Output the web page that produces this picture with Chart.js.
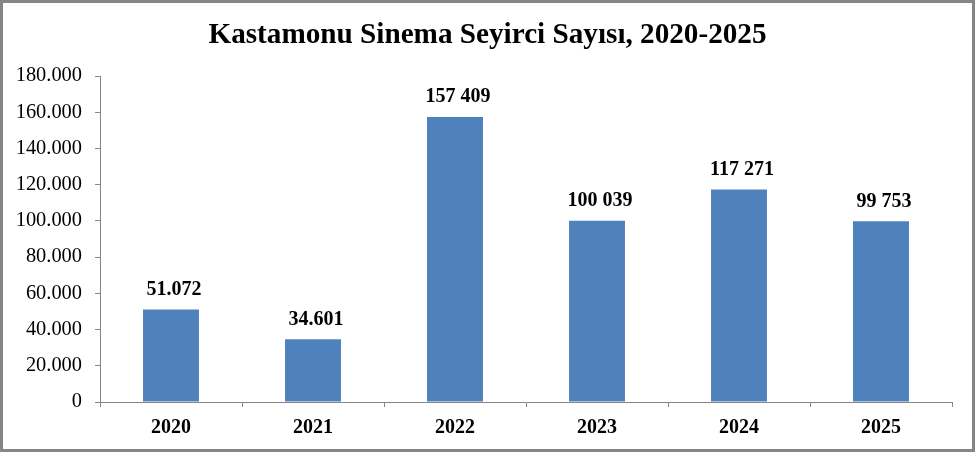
<!DOCTYPE html>
<html lang="tr">
<head>
<meta charset="utf-8">
<title>Kastamonu Sinema Seyirci Sayısı</title>
<script src="https://cdn.jsdelivr.net/npm/chart.js@4.4.1/dist/chart.umd.min.js"></script>
<style>
  html, body { margin: 0; padding: 0; background: #fff; }
  #wrap { width: 975px; height: 452px; position: relative; }
</style>
</head>
<body>
<div id="wrap"><canvas id="seyirciChart" width="975" height="452"></canvas></div>
<script>
// Data
const baslik = 'Kastamonu Sinema Seyirci Sayısı, 2020-2025';
const yillar = ['2020', '2021', '2022', '2023', '2024', '2025'];
const seyirci = [51072, 34601, 157409, 100039, 117271, 99753];
// bar labels exactly as printed (mixed separators in the original)
const etiketler = ['51.072', '34.601', '157 409', '100 039', '117 271', '99 753'];

const SERIF = '"Liberation Serif", "Times New Roman", serif';
const AXIS_GRAY = '#868686';

// thousands separator with a dot: 180000 -> 180.000
function binlik(v) {
    return String(v).replace(/\B(?=(\d{3})+(?!\d))/g, '.');
}

// title centred on the whole picture (the plot area is not centred)
const chartTitle = {
    id: 'chartTitle',
    afterDraw(chart) {
        const ctx = chart.ctx;
        ctx.save();
        ctx.font = 'bold 29.2px ' + SERIF;
        ctx.fillStyle = '#000';
        ctx.textAlign = 'center';
        ctx.textBaseline = 'middle';
        ctx.fillText(baslik, chart.width / 2, 35.5);
        ctx.restore();
    }
};

// draws the value above each bar
const barLabels = {
    id: 'barLabels',
    afterDatasetsDraw(chart) {
        const ctx = chart.ctx;
        const meta = chart.getDatasetMeta(0);
        ctx.save();
        ctx.font = 'bold 20px ' + SERIF;
        ctx.fillStyle = '#000';
        ctx.textAlign = 'center';
        ctx.textBaseline = 'middle';
        meta.data.forEach((bar, i) => {
            ctx.fillText(etiketler[i], bar.x + 3, bar.y - 20);
        });
        ctx.restore();
    }
};

// gray frame around the whole picture
const frame = {
    id: 'frame',
    afterDraw(chart) {
        const ctx = chart.ctx;
        ctx.save();
        ctx.strokeStyle = AXIS_GRAY;
        ctx.lineWidth = 3;
        ctx.strokeRect(1.5, 1.5, chart.width - 3, chart.height - 3);
        ctx.restore();
    }
};

new Chart(document.getElementById('seyirciChart'), {
    type: 'bar',
    data: {
        labels: yillar,
        datasets: [{
            data: seyirci,
            backgroundColor: '#4F81BD',
            borderWidth: 0,
            barPercentage: 0.394,
            categoryPercentage: 1.0
        }]
    },
    options: {
        responsive: false,
        devicePixelRatio: 1,
        animation: false,
        layout: { padding: { left: 0, right: 23, top: 76, bottom: 0 } },
        plugins: {
            legend: { display: false },
            tooltip: { enabled: false },
            title: { display: false }
        },
        scales: {
            x: {
                offset: true,
                grid: {
                    display: true,
                    offset: true,
                    drawOnChartArea: false,
                    tickLength: 5,
                    color: AXIS_GRAY
                },
                border: { display: true, color: AXIS_GRAY, width: 1 },
                ticks: {
                    color: '#000',
                    padding: 9,
                    font: { family: SERIF, size: 20, weight: 'bold' }
                },
                afterFit(scale) { scale.height = 50; }
            },
            y: {
                min: 0,
                max: 180000,
                grid: {
                    display: true,
                    drawOnChartArea: false,
                    tickLength: 5,
                    color: AXIS_GRAY
                },
                border: { display: true, color: AXIS_GRAY, width: 1 },
                ticks: {
                    stepSize: 20000,
                    color: '#000',
                    padding: 13,
                    font: { family: SERIF, size: 20.4 },
                    callback: (v) => binlik(v)
                },
                afterFit(scale) { scale.width = 100; }
            }
        }
    },
    plugins: [chartTitle, barLabels, frame]
});
</script>
</body>
</html>
